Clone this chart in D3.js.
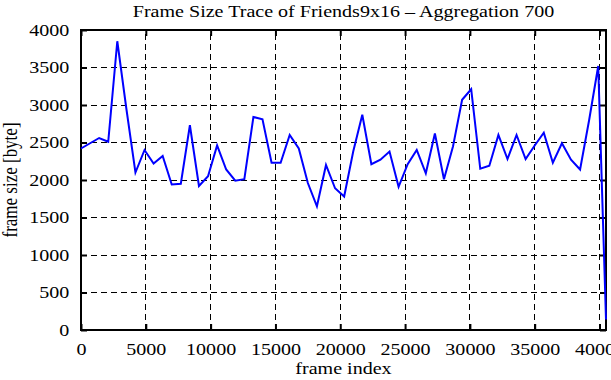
<!DOCTYPE html>
<html>
<head>
<meta charset="utf-8">
<script src="https://cdn.jsdelivr.net/npm/d3@7"></script>
<style>
  body { margin: 0; background: #fff; }
  text { font-family: "Liberation Serif", "DejaVu Serif", serif; fill: #000; }
</style>
</head>
<body>
<div class="main_content"></div>
<script>
// frame index of each aggregated sample (aggregation window 700 frames)
const frameIndex = [
    0, 700, 1400, 2100, 2800, 3500, 4200, 4900, 5600, 6300,
    7000, 7700, 8400, 9100, 9800, 10500, 11200, 11900, 12600, 13300,
    14000, 14700, 15400, 16100, 16800, 17500, 18200, 18900, 19600, 20300,
    21000, 21700, 22400, 23100, 23800, 24500, 25200, 25900, 26600, 27300,
    28000, 28700, 29400, 30100, 30800, 31500, 32200, 32900, 33600, 34300,
    35000, 35700, 36400, 37100, 37800, 38500, 39200, 39900, 40500
];
// frame size in bytes
const frameSize = [
    2420, 2490, 2560, 2510, 3850, 2950, 2100, 2400, 2220, 2320,
    1940, 1950, 2730, 1920, 2050, 2460, 2140, 1990, 2010, 2840,
    2810, 2230, 2230, 2600, 2420, 1960, 1650, 2200, 1890, 1780,
    2380, 2870, 2210, 2270, 2380, 1910, 2210, 2400, 2090, 2620,
    2010, 2450, 3070, 3210, 2150, 2190, 2600, 2280, 2600, 2280,
    2460, 2630, 2230, 2490, 2270, 2140, 2800, 3520, 140
];
const xTicks = [0, 5000, 10000, 15000, 20000, 25000, 30000, 35000, 40000];
const yTicks = [0, 500, 1000, 1500, 2000, 2500, 3000, 3500, 4000];

const width = 611, height = 380;
const margin = {top: 30, right: 5, bottom: 50, left: 81};
const xMax = 40500, yMax = 4000;
const fontSize = 17;
const stretch = 1.18;   // the original text is a bit wider than Liberation Serif

const svg = d3.select('.main_content')
    .append('svg')
    .attr('width', width)
    .attr('height', height);

const x = d3.scaleLinear().domain([0, xMax]).range([margin.left, width - margin.right]);
const y = d3.scaleLinear().domain([0, yMax]).range([height - margin.bottom, margin.top]);

// dashed grid
svg.append('g')
    .selectAll('line')
    .data(xTicks.filter(d => d > 0))
    .join('line')
    .attr('x1', d => x(d)).attr('x2', d => x(d))
    .attr('y1', y(0)).attr('y2', y(yMax))
    .attr('stroke', '#000').attr('stroke-width', 1)
    .attr('stroke-dasharray', '6,4')
    .attr('shape-rendering', 'crispEdges');

svg.append('g')
    .selectAll('line')
    .data(yTicks.filter(d => d > 0 && d < yMax))
    .join('line')
    .attr('x1', x(0)).attr('x2', x(xMax))
    .attr('y1', d => y(d)).attr('y2', d => y(d))
    .attr('stroke', '#000').attr('stroke-width', 1)
    .attr('stroke-dasharray', '6,4')
    .attr('shape-rendering', 'crispEdges');

// axes with inward ticks
const fmt = d3.format('d');
const xAxis = d3.axisBottom(x).tickValues(xTicks).tickFormat(fmt)
    .tickSizeInner(-6).tickSizeOuter(0).tickPadding(13);
const yAxis = d3.axisLeft(y).tickValues(yTicks).tickFormat(fmt)
    .tickSizeInner(-6).tickSizeOuter(0).tickPadding(10);

svg.append('g')
    .attr('transform', `translate(0,${y(0)})`)
    .call(xAxis);
svg.append('g')
    .attr('transform', `translate(${x(0)},0)`)
    .call(yAxis);
svg.append('g')
    .attr('transform', `translate(0,${y(yMax)})`)
    .call(d3.axisTop(x).tickValues(xTicks).tickSizeInner(-6).tickSizeOuter(0).tickFormat(''));
svg.append('g')
    .attr('transform', `translate(${x(xMax)},0)`)
    .call(d3.axisRight(y).tickValues(yTicks).tickSizeInner(-6).tickSizeOuter(0).tickFormat(''));

svg.selectAll('.domain').remove();
svg.selectAll('.tick line').attr('stroke', '#000').attr('stroke-width', 2);
svg.selectAll('.tick text')
    .style('font-family', '"Liberation Serif", serif')
    .style('font-size', fontSize + 'px')
    .attr('fill', '#000')
    .attr('transform', `scale(${stretch},1)`);

// plot border
svg.append('rect')
    .attr('x', x(0)).attr('y', y(yMax))
    .attr('width', x(xMax) - x(0))
    .attr('height', y(0) - y(yMax))
    .attr('fill', 'none')
    .attr('stroke', '#000')
    .attr('stroke-width', 2);

// data line
const line = d3.line()
    .x((d, i) => x(frameIndex[i]))
    .y(d => y(d));

svg.append('path')
    .datum(frameSize)
    .attr('d', line)
    .attr('fill', 'none')
    .attr('stroke', '#0000ff')
    .attr('stroke-width', 2)
    .attr('stroke-linejoin', 'miter');

// titles
const cx = (x(0) + x(xMax)) / 2;
svg.append('text')
    .attr('transform', `translate(${cx},17) scale(${stretch},1)`)
    .attr('text-anchor', 'middle')
    .style('font-size', fontSize + 'px')
    .text('Frame Size Trace of Friends9x16 \u2013 Aggregation 700');

svg.append('text')
    .attr('transform', `translate(${cx},${height - 6}) scale(${stretch},1)`)
    .attr('text-anchor', 'middle')
    .style('font-size', fontSize + 'px')
    .text('frame index');

svg.append('text')
    .attr('transform', `translate(17,${(y(0) + y(yMax)) / 2}) scale(${stretch},1) rotate(-90)`)
    .attr('text-anchor', 'middle')
    .style('font-size', fontSize + 'px')
    .text('frame size [byte]');
</script>
</body>
</html>
